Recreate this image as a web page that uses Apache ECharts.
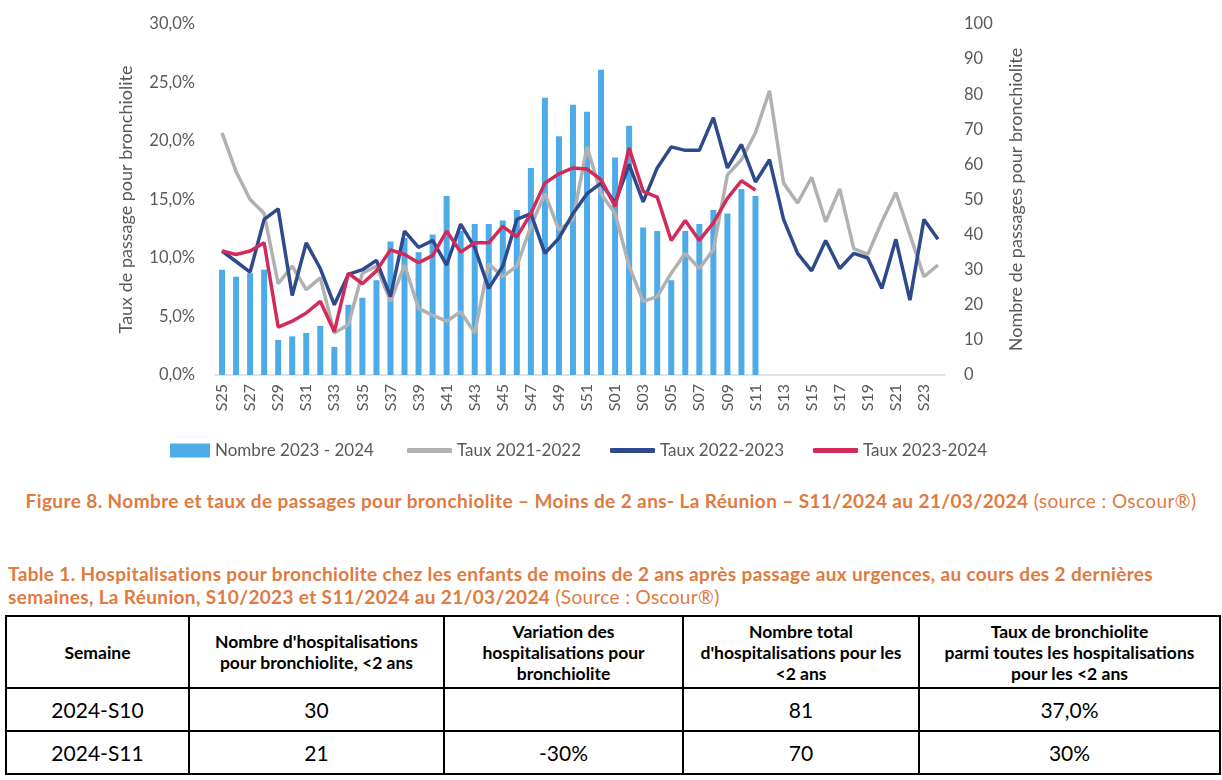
<!DOCTYPE html>
<html>
<head>
<meta charset="utf-8">
<script src="https://cdn.jsdelivr.net/npm/echarts@6/dist/echarts.min.js"></script>
<style>
  html, body { margin:0; padding:0; background:#fff; }
  body { width:1222px; height:780px; overflow:hidden; position:relative; font-family: Lato, "Open Sans", sans-serif; }
  #chart { position:absolute; left:0; top:0; width:1222px; height:470px; }
  #cap { position:absolute; left:0; top:489px; width:1222px; text-align:center; color:#E07A3E; font-size:19px; letter-spacing:0.4px; white-space:nowrap; }
  #tcap { position:absolute; left:8px; top:562px; width:1214px; color:#E07A3E; font-size:19px; letter-spacing:0.35px; line-height:23px; white-space:nowrap; }
  table { position:absolute; left:5px; top:615px; width:1216px; border-collapse:collapse; color:#000; }
  td, th { border:2px solid #000; text-align:center; padding:0; }
  th { font-size:17.5px; font-weight:bold; line-height:21px; height:70px; }
  td { font-size:21px; height:41px; }
</style>
</head>
<body>
<div id="chart"></div>
<div id="cap"><b>Figure 8. Nombre et taux de passages pour bronchiolite – Moins de 2 ans- La Réunion – S11/2024 au 21/03/2024</b> (source : Oscour®)</div>
<div id="tcap"><b>Table 1. Hospitalisations pour bronchiolite chez les enfants de moins de 2 ans après passage aux urgences, au cours des 2 dernières<br>semaines, La Réunion, S10/2023 et S11/2024 au 21/03/2024</b> (Source : Oscour®)</div>
<table>
  <tr>
    <th style="width:181px">Semaine</th>
    <th style="width:253px">Nombre d'hospitalisations<br>pour bronchiolite, &lt;2 ans</th>
    <th style="width:237px">Variation des<br>hospitalisations pour<br>bronchiolite</th>
    <th style="width:234px">Nombre total<br>d'hospitalisations pour les<br>&lt;2 ans</th>
    <th>Taux de bronchiolite<br>parmi toutes les hospitalisations<br>pour les &lt;2 ans</th>
  </tr>
  <tr><td>2024-S10</td><td>30</td><td></td><td>81</td><td>37,0%</td></tr>
  <tr><td>2024-S11</td><td>21</td><td>-30%</td><td>70</td><td>30%</td></tr>
</table>
<script>
const weeks = ['S25','S26','S27','S28','S29','S30','S31','S32','S33','S34','S35','S36','S37','S38','S39','S40','S41','S42','S43','S44','S45','S46','S47','S48','S49','S50','S51','S52',
               'S01','S02','S03','S04','S05','S06','S07','S08','S09','S10','S11','S12','S13','S14','S15','S16','S17','S18','S19','S20','S21','S22','S23','S24'];
const nombre2023_2024 = [30,28,29,30,10,11,12,14,8,20,22,27,38,39,35,40,51,41,43,43,44,47,59,79,68,77,75,87,
                         62,71,42,41,27,41,43,47,46,53,51];
const taux2021_2022 = [20.7,17.4,15.0,13.8,7.8,9.3,7.3,8.3,3.6,4.3,8.7,9.3,6.3,9.4,5.7,5.1,4.6,5.4,3.6,9.5,8.4,9.3,12.7,15.5,12.4,13.3,19.5,15.5,
                       13.8,9.3,6.3,6.7,8.7,10.4,9.1,10.7,17.1,18.4,20.7,24.3,16.4,14.7,16.9,13.1,15.9,10.8,10.3,13.1,15.6,12.0,8.4,9.4];
const taux2022_2023 = [10.6,9.7,8.8,13.3,14.2,6.8,11.3,9.1,6.0,8.6,9.0,9.8,6.7,12.3,10.9,11.5,9.4,12.9,10.9,7.4,9.3,13.3,13.8,10.4,11.7,13.8,15.5,16.4,
                       14.7,18.0,14.8,17.7,19.5,19.2,19.2,22.0,17.7,19.7,16.5,18.4,13.3,10.4,8.9,11.5,9.1,10.4,10.0,7.4,11.6,6.4,13.3,11.6];
const taux2023_2024 = [10.6,10.3,10.6,11.3,4.1,4.6,5.3,6.3,3.7,8.7,7.8,8.9,10.7,10.3,9.6,10.2,12.3,10.5,11.3,11.3,12.7,11.8,13.8,16.4,17.2,17.7,17.6,16.7,
                       14.4,19.4,15.7,15.2,11.5,13.2,11.5,13.0,15.1,16.6,15.8];

const FONT = 'Lato';
const TXT = '#595959';
const chart = echarts.init(document.getElementById('chart'));
const legendBase = { top: 437, textStyle: { color: TXT, fontSize: 17, fontFamily: FONT }, itemGap: 5, selectedMode: false };
const lineLegend = (left, name) => Object.assign({}, legendBase, {
  left: left, data: [{ name: name, icon: 'roundRect' }], itemWidth: 45, itemHeight: 5
});
chart.setOption({
  animation: false,
  grid: { left: 215, right: 277, top: 24, bottom: 95 },
  legend: [
    Object.assign({}, legendBase, { left: 165, data: [{ name: 'Nombre 2023 - 2024', icon: 'rect' }], itemWidth: 40, itemHeight: 14 }),
    lineLegend(402, 'Taux 2021-2022'),
    lineLegend(605, 'Taux 2022-2023'),
    lineLegend(808, 'Taux 2023-2024')
  ],
  xAxis: {
    type: 'category', data: weeks, boundaryGap: true,
    axisLine: { lineStyle: { color: '#D9D9D9', width: 1.5 } },
    axisTick: { show: false },
    axisLabel: { rotate: 90, interval: 1, color: TXT, fontSize: 16, fontFamily: FONT, margin: 9 }
  },
  yAxis: [
    {
      type: 'value', min: 0, max: 30, interval: 5,
      name: 'Taux de passage pour bronchiolite', nameLocation: 'middle', nameGap: 80, nameRotate: 90,
      nameTextStyle: { color: TXT, fontSize: 18, fontFamily: FONT },
      axisLine: { show: false }, axisTick: { show: false }, splitLine: { show: false },
      axisLabel: { color: TXT, fontSize: 16.5, fontFamily: FONT, margin: 20,
        formatter: v => v.toFixed(1).replace('.', ',') + '%' }
    },
    {
      type: 'value', min: 0, max: 100, interval: 10, position: 'right',
      name: 'Nombre de passages pour bronchiolite', nameLocation: 'middle', nameGap: 62, nameRotate: 90,
      nameTextStyle: { color: TXT, fontSize: 18, fontFamily: FONT },
      axisLine: { show: false }, axisTick: { show: false }, splitLine: { show: false },
      axisLabel: { color: TXT, fontSize: 16.5, fontFamily: FONT, margin: 19 }
    }
  ],
  series: [
    { name: 'Nombre 2023 - 2024', type: 'bar', yAxisIndex: 1, data: nombre2023_2024, barWidth: 6,
      itemStyle: { color: '#4DACE8' } },
    { name: 'Taux 2021-2022', type: 'line', yAxisIndex: 0, data: taux2021_2022, symbol: 'none',
      lineStyle: { color: '#B2B1B2', width: 3.5 }, itemStyle: { color: '#B2B1B2' } },
    { name: 'Taux 2022-2023', type: 'line', yAxisIndex: 0, data: taux2022_2023, symbol: 'none',
      lineStyle: { color: '#2F4A8C', width: 3.5 }, itemStyle: { color: '#2F4A8C' } },
    { name: 'Taux 2023-2024', type: 'line', yAxisIndex: 0, data: taux2023_2024, symbol: 'none',
      lineStyle: { color: '#D22B5A', width: 3.5 }, itemStyle: { color: '#D22B5A' } }
  ]
});
</script>
</body>
</html>
